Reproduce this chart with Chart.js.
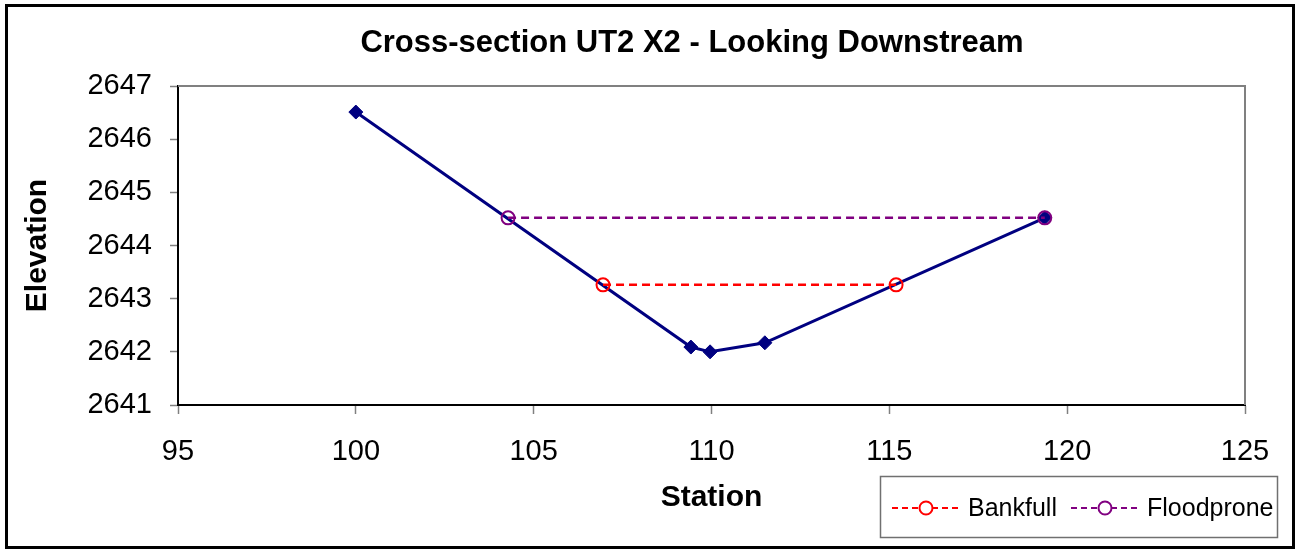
<!DOCTYPE html>
<html>
<head>
<meta charset="utf-8">
<script src="https://cdn.jsdelivr.net/npm/chart.js@4/dist/chart.umd.min.js"></script>
<style>
    html, body { margin: 0; padding: 0; background: #fff; }
    canvas { display: block; }
</style>
</head>
<body>
<canvas id="xsChart" width="1299" height="553"></canvas>
<script>
// surveyed ground points
const stations = [100, 109.42, 109.96, 111.5, 119.37];
const elevations = [2646.51, 2642.09, 2642.0, 2642.17, 2644.52];

// bankfull and floodprone water surface lines
const bankfullStations = [106.95, 115.19];
const bankfullElevations = [2643.26, 2643.26];
const floodproneStations = [104.28, 119.37];
const floodproneElevations = [2644.52, 2644.52];

const xTicks = [95, 100, 105, 110, 115, 120, 125];
const yTicks = [2641, 2642, 2643, 2644, 2645, 2646, 2647];

const chartTitle = "Cross-section UT2 X2 - Looking Downstream";
const FONT = "'Liberation Sans', Arial, sans-serif";

const toPoints = (xs, ys) => xs.map((x, i) => ({ x: x, y: ys[i] }));

// frame, plot border, title and the boxed legend
const decorations = {
    id: "decorations",
    beforeDatasetsDraw(chart) {
        const { ctx, chartArea } = chart;
        ctx.save();
        ctx.strokeStyle = "#808080";
        ctx.lineWidth = 2;
        ctx.beginPath();
        ctx.moveTo(chartArea.left, chartArea.top);
        ctx.lineTo(chartArea.right, chartArea.top);
        ctx.lineTo(chartArea.right, chartArea.bottom);
        ctx.stroke();
        ctx.restore();
    },
    afterDraw(chart) {
        const ctx = chart.ctx;
        ctx.save();

        ctx.strokeStyle = "#000";
        ctx.lineWidth = 3;
        ctx.strokeRect(6.5, 5.5, 1287, 542);

        ctx.fillStyle = "#000";
        ctx.font = "bold 31px " + FONT;
        ctx.textAlign = "center";
        ctx.textBaseline = "middle";
        ctx.fillText(chartTitle, 692, 43);

        // legend box
        ctx.strokeStyle = "#707070";
        ctx.lineWidth = 1.5;
        ctx.strokeRect(880.5, 476.5, 397, 61);

        const items = [
            { ds: chart.data.datasets[1], x: 892, text: 968 },
            { ds: chart.data.datasets[2], x: 1071, text: 1147 }
        ];
        const ly = 508;
        items.forEach(item => {
            ctx.strokeStyle = item.ds.borderColor;
            ctx.lineWidth = 2;
            ctx.setLineDash([6, 4]);
            ctx.beginPath();
            ctx.moveTo(item.x, ly);
            ctx.lineTo(item.x + 68, ly);
            ctx.stroke();
            ctx.setLineDash([]);
            ctx.fillStyle = "#fff";
            ctx.lineWidth = item.ds.pointBorderWidth;
            ctx.beginPath();
            ctx.arc(item.x + 34, ly, item.ds.pointRadius, 0, Math.PI * 2);
            ctx.fill();
            ctx.stroke();
            ctx.fillStyle = "#000";
            ctx.font = "25px " + FONT;
            ctx.textAlign = "left";
            ctx.textBaseline = "middle";
            ctx.fillText(item.ds.label, item.text, ly + 1);
        });
        ctx.restore();
    }
};

const ctx = document.getElementById("xsChart").getContext("2d");

const xsChart = new Chart(ctx, {
    type: "scatter",
    data: {
        datasets: [
            {
                label: "Cross-section",
                data: toPoints(stations, elevations),
                showLine: true,
                borderColor: "#000080",
                backgroundColor: "#000080",
                borderWidth: 3,
                pointStyle: "rectRot",
                pointRadius: 7,
                pointBackgroundColor: "#000080",
                pointBorderColor: "#000080",
                pointBorderWidth: 1,
                order: 3
            },
            {
                label: "Bankfull",
                data: toPoints(bankfullStations, bankfullElevations),
                showLine: true,
                borderColor: "#ff0000",
                borderWidth: 2.5,
                borderDash: [8, 5],
                pointStyle: "circle",
                pointRadius: 6.5,
                pointBorderWidth: 2,
                pointBorderColor: "#ff0000",
                pointBackgroundColor: "rgba(0,0,0,0)",
                order: 2
            },
            {
                label: "Floodprone",
                data: toPoints(floodproneStations, floodproneElevations),
                showLine: true,
                borderColor: "#800080",
                borderWidth: 2.5,
                borderDash: [8, 5],
                pointStyle: "circle",
                pointRadius: 6.5,
                pointBorderWidth: 2,
                pointBorderColor: "#800080",
                pointBackgroundColor: "rgba(0,0,0,0)",
                order: 1
            }
        ]
    },
    options: {
        responsive: false,
        animation: false,
        layout: {
            padding: { left: 0, top: 86, right: 54, bottom: 0 }
        },
        plugins: {
            legend: { display: false },
            title: { display: false },
            tooltip: { enabled: false }
        },
        scales: {
            x: {
                type: "linear",
                min: xTicks[0],
                max: xTicks[xTicks.length - 1],
                afterBuildTicks: scale => { scale.ticks = xTicks.map(v => ({ value: v })); },
                afterFit: scale => { scale.height = 148; },
                ticks: {
                    color: "#000",
                    font: { family: FONT, size: 29 },
                    padding: 21,
                    maxRotation: 0,
                    callback: v => String(v)
                },
                grid: {
                    drawOnChartArea: false,
                    drawTicks: true,
                    tickLength: 9,
                    tickColor: "#808080",
                    tickWidth: 1.5
                },
                border: { color: "#000", width: 2 },
                title: {
                    display: true,
                    text: "Station",
                    color: "#000",
                    font: { family: FONT, size: 30, weight: "bold" },
                    padding: { top: 0, bottom: 37 }
                }
            },
            y: {
                type: "linear",
                min: yTicks[0],
                max: yTicks[yTicks.length - 1],
                afterBuildTicks: scale => { scale.ticks = yTicks.map(v => ({ value: v })); },
                afterFit: scale => { scale.width = 178; },
                ticks: {
                    color: "#000",
                    font: { family: FONT, size: 29 },
                    padding: 18,
                    callback: v => String(v)
                },
                grid: {
                    drawOnChartArea: false,
                    drawTicks: true,
                    tickLength: 8,
                    tickColor: "#808080",
                    tickWidth: 1.5
                },
                border: { color: "#000", width: 2 },
                title: {
                    display: true,
                    text: "Elevation",
                    color: "#000",
                    font: { family: FONT, size: 30, weight: "bold" },
                    padding: { top: 20, bottom: 0 }
                }
            }
        }
    },
    plugins: [decorations]
});
</script>
</body>
</html>
